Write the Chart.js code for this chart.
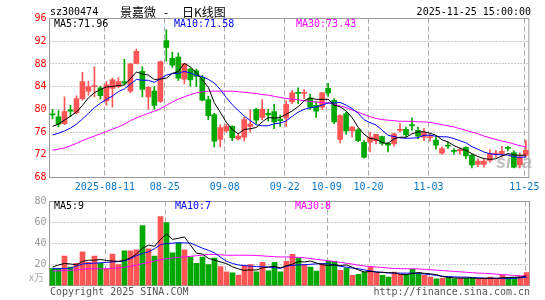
<!DOCTYPE html>
<html>
<head>
<meta charset="utf-8">
<script src="https://cdn.jsdelivr.net/npm/chart.js@4.4.0/dist/chart.umd.min.js"></script>
<style>
  html, body { margin: 0; padding: 0; background: #fff; }
  #wrap { position: relative; width: 545px; height: 300px; overflow: hidden; }
  #kline { position: absolute; left: 0; top: 0; }
  #vol { position: absolute; left: 0; top: 190px; }
</style>
</head>
<body>
<div id="wrap">
  <canvas id="kline" width="545" height="198"></canvas>
  <canvas id="vol" width="545" height="110"></canvas>
</div>
<script>
// trading days 2025-07-29 .. 2025-11-25
const dates = [
  '07-29','07-30','07-31','08-01','08-04','08-05','08-06','08-07','08-08','08-11',
  '08-12','08-13','08-14','08-15','08-18','08-19','08-20','08-21','08-22','08-25',
  '08-26','08-27','08-28','08-29','09-01','09-02','09-03','09-04','09-05','09-08',
  '09-09','09-10','09-11','09-12','09-15','09-16','09-17','09-18','09-19','09-22',
  '09-23','09-24','09-25','09-26','09-29','09-30','10-09','10-10','10-13','10-14',
  '10-15','10-16','10-17','10-20','10-21','10-22','10-23','10-24','10-27','10-28',
  '10-29','10-30','10-31','11-03','11-04','11-05','11-06','11-07','11-10','11-11',
  '11-12','11-13','11-14','11-17','11-18','11-19','11-20','11-21','11-24','11-25'
];

const open = [
  79.2,78.7,77.5,79.9,79.4,81.9,83.2,84.0,83.8,81.5,
  83.7,84.0,84.9,83.2,88.1,86.7,82.2,83.2,81.4,92.1,
  89.0,89.2,85.3,87.1,86.8,85.6,81.7,79.1,74.7,76.2,
  77.0,74.8,75.1,77.0,80.0,78.6,79.3,79.6,78.3,78.5,
  81.3,83.0,82.8,82.0,80.7,80.4,83.7,81.6,74.7,79.2,
  76.2,76.4,74.2,74.2,74.5,75.2,74.0,73.9,76.3,76.5,
  77.3,76.3,75.1,75.0,74.6,72.3,73.7,72.8,72.7,73.3,
  71.9,70.3,70.3,71.0,72.1,72.2,73.3,72.4,70.2,71.9
];
const high = [
  80.0,79.8,82.2,80.7,82.4,86.5,85.0,87.5,84.1,84.9,
  85.5,85.6,88.8,88.1,90.6,87.5,84.0,84.0,88.5,94.0,
  90.1,89.9,88.1,87.3,87.1,86.0,82.3,79.3,77.3,77.4,
  77.1,75.8,78.6,79.9,80.2,81.7,80.0,80.9,79.0,81.5,
  83.3,83.8,83.5,82.7,81.4,83.0,84.6,81.9,79.1,79.5,
  77.0,76.6,74.5,76.0,75.6,75.3,74.1,75.8,77.5,76.9,
  78.5,76.9,76.6,75.6,75.1,73.4,74.2,73.1,73.2,73.4,
  72.1,71.3,71.3,72.9,72.8,73.5,73.5,72.7,72.3,74.6
];
const low = [
  78.3,76.9,77.3,78.7,79.2,81.6,82.5,82.2,81.8,80.7,
  80.4,83.8,84.4,82.9,88.0,82.2,80.0,80.0,81.2,88.5,
  87.4,85.1,84.5,84.1,84.0,81.5,78.2,73.4,73.4,76.0,
  74.5,74.6,74.4,76.0,77.5,78.2,77.9,76.6,77.0,77.0,
  81.0,81.0,81.9,80.0,78.6,80.0,82.3,77.5,74.1,75.6,
  75.1,74.3,71.4,72.5,73.9,73.7,72.5,73.5,76.0,75.2,
  76.3,74.8,74.5,74.4,73.0,72.1,73.1,72.1,72.1,71.3,
  69.7,69.9,69.8,70.7,71.6,71.6,72.7,69.7,69.7,71.6
];
const close = [
  79.0,77.4,79.6,79.7,81.9,84.9,84.0,84.2,82.4,84.3,
  85.2,84.9,84.6,88.0,90.2,83.5,83.9,80.7,88.4,90.9,
  87.8,85.5,88.0,85.2,85.8,81.6,78.9,74.4,76.8,77.0,
  75.0,75.3,78.2,77.4,78.1,80.0,79.0,77.8,78.0,80.9,
  82.9,82.8,83.0,80.4,79.7,82.9,82.9,77.8,78.9,76.2,
  76.9,74.5,71.6,75.1,75.6,74.0,73.7,75.7,76.5,75.5,
  77.1,75.3,75.9,75.2,73.7,73.1,73.5,72.6,72.9,71.8,
  70.2,70.9,70.9,72.2,72.3,72.6,73.1,69.8,71.6,72.8
];

const ma5 = [
  77.0,77.4,78.1,78.8,79.52,80.70,82.02,82.94,83.48,83.96,
  84.02,84.20,84.28,85.40,86.58,86.24,86.04,85.26,85.34,85.48,
  86.34,86.66,88.12,87.48,86.46,85.22,83.90,81.18,79.50,77.74,
  76.42,75.70,76.46,76.58,76.80,77.80,78.54,78.46,78.58,79.14,
  79.72,80.48,81.52,82.00,81.76,81.76,81.78,80.74,80.44,79.74,
  78.54,76.86,75.62,74.86,74.74,74.16,74.00,74.82,75.10,75.08,
  75.70,76.02,76.06,75.80,75.44,74.64,74.28,73.62,73.16,72.78,
  72.20,71.68,71.34,71.20,71.30,71.78,72.22,72.00,71.88,71.98
];
const ma10 = [
  75.5,75.8,76.2,76.7,77.4,78.3,79.3,80.3,81.1,81.74,
  82.36,83.11,83.61,84.44,85.27,85.13,85.12,84.77,85.37,86.03,
  86.29,86.35,86.69,86.41,85.97,85.78,85.28,84.65,83.49,82.10,
  80.82,79.80,78.82,78.04,77.27,77.11,77.12,77.46,77.58,77.97,
  78.76,79.51,79.99,80.29,80.45,80.74,81.13,81.13,81.22,80.75,
  80.15,79.32,78.18,77.65,77.24,76.35,75.43,75.22,74.98,74.91,
  74.93,75.01,75.44,75.45,75.26,75.17,75.15,74.84,74.48,74.11,
  73.42,72.98,72.48,72.18,72.04,71.99,71.95,71.67,71.54,71.64
];
const ma30 = [
  72.8,73.0,73.2,73.6,74.0,74.5,74.9,75.3,75.7,76.1,
  76.5,76.9,77.4,78.0,78.5,78.9,79.3,79.7,80.1,80.7,
  81.3,81.8,82.2,82.6,82.9,83.1,83.2,83.2,83.2,83.2,
  83.2,83.1,83.0,82.9,82.8,82.6,82.5,82.3,82.1,81.9,
  81.8,81.7,81.5,81.4,81.3,81.2,81.1,80.9,80.6,80.3,
  79.9,79.5,79.1,78.7,78.4,78.2,78.1,78.0,77.9,77.9,
  77.9,77.8,77.8,77.7,77.5,77.3,77.1,76.9,76.6,76.3,
  76.0,75.7,75.3,75.0,74.7,74.4,74.2,73.9,73.6,73.4
];

// volume, 万手
const vol = [
  16,16,28,17.6,21,32,22,28,21,16,
  30,20,33,33,34,57,35,28,65.6,60,
  31,40.6,34,27,21,27,20,26,18,13,
  12,10,19,20,13,22,14,22,13,23,
  29.8,26,20,17.6,13.8,21,23,23,14.4,16.6,
  9.6,10.6,12.8,18,12,9.6,8,12.8,10.6,10.6,
  15.4,12,9.6,8,6.4,7,8,6.4,7,7,
  7.6,6,6.4,8,6.4,9.8,7.4,7.8,8.6,12.4
];
const volMa5 = [
  17.6,19.5,21,20.5,19.7,22.9,24.1,24.1,24.8,23.8,
  23.4,23,24,26.4,30,35.4,38.4,37.4,43.9,49.1,
  43.9,45.0,46.2,38.5,30.7,29.9,25.8,24.2,22.4,20.8,
  17.8,15.8,14.4,14.8,14.8,16.8,17.6,18.2,16.8,18.8,
  20.4,22.8,22.4,23.3,21.4,19.7,19.1,19.7,19.0,19.6,
  17.3,14.8,12.8,13.5,12.6,12.6,12.1,12.1,10.6,10.3,
  11.5,12.3,11.6,11.1,10.3,8.6,7.8,7.2,7.0,7.1,
  7.2,6.8,6.8,7.0,6.9,7.3,7.6,7.9,8.0,9.2
];
const volMa10 = [
  16,16,16,16.5,18.5,20.5,21,21.3,21.6,22,
  22.4,22.8,23.5,25.5,28.5,30.5,32,35,39,40,
  40.3,40.6,40.6,40.4,38,35.5,33.5,31,27,23,
  21,19.5,19,18.4,18,17.8,17.6,17,16.3,18.5,
  19.2,19.6,19.8,20.2,20.6,20.8,20.6,19.5,18.2,17.4,
  16.6,16,14.8,13.8,13,12.4,12,11.8,11.8,11.8,
  11.8,11.4,10.9,10.4,9.6,8.8,8.4,8.2,8,8,
  7.6,7.3,7,6.9,6.8,6.6,6.5,6.8,7.4,7.8
];
const volMa30 = [
  13.8,14,14.2,14.4,15,15.6,16,16,16,16,
  16.4,16.8,17.4,18.2,19.4,20.8,22,23.4,24.6,25.4,
  26.2,26.8,27.2,27.8,28.4,29,29.6,29.6,29.2,28.8,
  28.8,28.8,28.8,28.8,28.6,28.2,27.8,27.4,27.2,27.2,
  27,26.8,26.4,25.6,24.8,24.2,23.6,22.8,22,21.2,
  20.4,19.4,18.6,18,17.6,17.2,16.6,16.2,16,16,
  16,15.8,15.4,15,14.6,14.2,13.8,13.4,13,12.6,
  12.2,11.8,11.6,11.2,10.8,10.4,10,9.6,9.2,8.9
];

// x-axis marks
const markDates = ['08-11','08-25','09-08','09-22','10-09','10-20','11-03','11-25'];
const markText  = ['2025-08-11','08-25','09-08','09-22','10-09','10-20','11-03','11-25'];
const markIdx = markDates.map(d => dates.indexOf(d));

const RED = '#ff5555';
const GREEN = '#00a800';
const MONO = '"DejaVu Sans Mono", monospace';
const candleColors = close.map((c, i) => (c >= open[i] ? RED : GREEN));

function maLine(label, data, color) {
    return {
        type: 'line', label: label, data: data,
        borderColor: color, borderWidth: 1, pointRadius: 0,
        tension: 0, fill: false, order: 0
    };
}

// dotted / dashed grid and the box, drawn under the bars
const gridPlugin = {
    id: 'sinaGrid',
    beforeDatasetsDraw(chart) {
        const { ctx, chartArea: a, scales } = chart;
        const x = scales.x, y = scales.y;
        ctx.save();
        ctx.lineWidth = 1;
        ctx.strokeStyle = '#9a9a9a';
        ctx.setLineDash([1, 2]);
        y.ticks.forEach(t => {
            if (t.value <= y.min || t.value >= y.max) return;
            const py = Math.floor(y.getPixelForValue(t.value)) + 0.5;
            ctx.beginPath(); ctx.moveTo(a.left, py); ctx.lineTo(a.right, py); ctx.stroke();
        });
        ctx.setLineDash([5, 3]);
        ctx.strokeStyle = '#a8a8a8';
        const slot = x.width / dates.length;
        markIdx.forEach(i => {
            const px = Math.floor(x.getPixelForValue(i) - slot / 4) + 0.5;
            ctx.beginPath(); ctx.moveTo(px, a.top); ctx.lineTo(px, a.bottom); ctx.stroke();
        });
        ctx.setLineDash([]);
        ctx.strokeStyle = '#999';
        ctx.strokeRect(a.left, a.top, a.right - a.left, a.bottom - a.top);
        if (chart.canvas.id === 'kline') {
            ctx.font = 'italic bold 18px "Liberation Sans", sans-serif';
            ctx.fillStyle = 'rgba(170,170,170,0.75)';
            ctx.textBaseline = 'alphabetic';
            ctx.fillText('sina', 496, 168);
        }
        ctx.restore();
    }
};

function drawText(ctx, txt, x, y, color, font, align) {
    ctx.font = font;
    ctx.fillStyle = color;
    ctx.textAlign = align || 'left';
    ctx.textBaseline = 'middle';
    ctx.fillText(txt, x, y);
}

const klineText = {
    id: 'klineText',
    afterDraw(chart) {
        const ctx = chart.ctx;
        ctx.save();
        const f = '10px ' + MONO;
        const cjk = '12px "Noto Sans CJK SC", sans-serif';
        drawText(ctx, 'sz300474', 50, 12, '#000', f);
        drawText(ctx, '景嘉微', 120, 12, '#000', cjk);
        drawText(ctx, '-', 164, 12, '#000', cjk);
        drawText(ctx, '日K线图', 182, 12, '#000', cjk);
        drawText(ctx, '2025-11-25 15:00:00', 531, 12, '#000', f, 'right');
        drawText(ctx, 'MA5:71.96', 54, 24, '#000', f);
        drawText(ctx, 'MA10:71.58', 174, 24, '#0000ff', f);
        drawText(ctx, 'MA30:73.43', 296, 24, '#ff00ff', f);
        ctx.restore();
    }
};

const volText = {
    id: 'volText',
    afterDraw(chart) {
        const ctx = chart.ctx;
        ctx.save();
        const f = '10px ' + MONO;
        drawText(ctx, 'MA5:9', 54, 16, '#000', f);
        drawText(ctx, 'MA10:7', 175, 16, '#0000ff', f);
        drawText(ctx, 'MA30:8', 295, 16, '#ff00ff', f);
        drawText(ctx, 'x万', 44, 87, '#aaa', '10px "Noto Sans CJK SC", sans-serif', 'right');
        drawText(ctx, 'Copyright 2025 SINA.COM', 50, 102, '#555', f);
        drawText(ctx, 'http://finance.sina.com.cn', 530, 102, '#555', f, 'right');
        ctx.restore();
    }
};

document.addEventListener('DOMContentLoaded', () => {
    const klineChart = new Chart(document.getElementById('kline'), {
        type: 'bar',
        data: {
            labels: dates,
            datasets: [
                maLine('MA5', ma5, '#000000'),
                maLine('MA10', ma10, '#0000ff'),
                maLine('MA30', ma30, '#ff00ff'),
                {
                    label: 'body',
                    data: open.map((o, i) => [o, close[i]]),
                    backgroundColor: candleColors,
                    barThickness: 5, minBarLength: 1, grouped: false,
                    borderWidth: 0, order: 1
                },
                {
                    label: 'shadow',
                    data: low.map((l, i) => [l, high[i]]),
                    backgroundColor: candleColors,
                    barThickness: 1, grouped: false,
                    borderWidth: 0, order: 2
                }
            ]
        },
        options: {
            responsive: false,
            animation: false,
            devicePixelRatio: 1,
            layout: { padding: { top: 18.5, right: 15.5, left: 0, bottom: 0 } },
            plugins: { legend: { display: false }, tooltip: { enabled: false } },
            scales: {
                x: {
                    offset: true,
                    grid: { display: false, drawTicks: false },
                    border: { display: false },
                    ticks: {
                        autoSkip: false, maxRotation: 0, minRotation: 0,
                        padding: 4, labelOffset: -1.5,
                        color: '#0a78c8',
                        font: { family: MONO, size: 10 },
                        callback: (v, i) => {
                            const k = markIdx.indexOf(i);
                            return k >= 0 ? markText[k] : '';
                        }
                    },
                    afterFit: s => { s.height = 20.5; }
                },
                y: {
                    min: 68, max: 96,
                    grid: { display: false, drawTicks: false },
                    border: { display: false },
                    ticks: {
                        stepSize: 4, padding: 3, color: '#ff0000',
                        font: { family: MONO, size: 10 }
                    },
                    afterFit: s => { s.width = 49.5; }
                }
            }
        },
        plugins: [gridPlugin, klineText]
    });

    const volChart = new Chart(document.getElementById('vol'), {
        type: 'bar',
        data: {
            labels: dates,
            datasets: [
                maLine('MA5', volMa5, '#000000'),
                maLine('MA10', volMa10, '#0000ff'),
                maLine('MA30', volMa30, '#ff00ff'),
                {
                    label: 'vol',
                    data: vol,
                    backgroundColor: candleColors,
                    barThickness: 5, grouped: false,
                    borderWidth: 0, order: 1
                }
            ]
        },
        options: {
            responsive: false,
            animation: false,
            devicePixelRatio: 1,
            layout: { padding: { top: 11.5, right: 15.5, left: 0, bottom: 14.5 } },
            plugins: { legend: { display: false }, tooltip: { enabled: false } },
            scales: {
                x: { offset: true, display: false },
                y: {
                    min: 0, max: 80,
                    grid: { display: false, drawTicks: false },
                    border: { display: false },
                    ticks: {
                        stepSize: 20, padding: 3, color: '#999',
                        font: { family: MONO, size: 10 },
                        callback: v => (v === 0 ? '' : v)
                    },
                    afterFit: s => { s.width = 49.5; }
                }
            }
        },
        plugins: [gridPlugin, volText]
    });

    klineChart.update();
    volChart.update();
});
</script>
</body>
</html>
